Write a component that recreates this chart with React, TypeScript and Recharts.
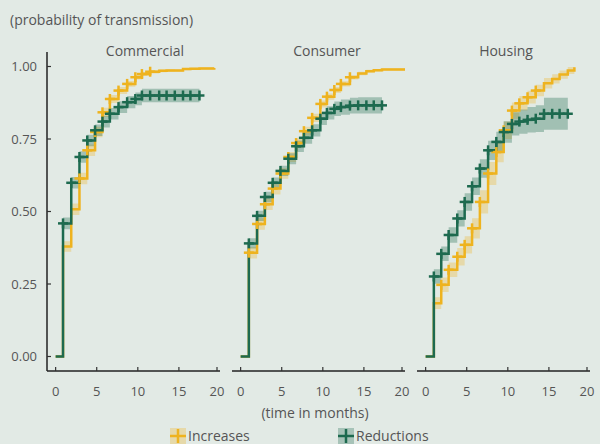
import React from "react";
import { ComposedChart, Line, Area, XAxis, YAxis } from "recharts";

// ---- data ----
const xTicks = [0, 5, 10, 15, 20];
const yTicks = [0, 0.25, 0.5, 0.75, 1];
const seriesNames = ["Increases", "Reductions"];

const commercialMonths = [0, 0.9, 1.9, 2.9, 3.85, 4.8, 5.7, 6.6, 7.65, 8.7, 9.7, 10.5, 11.5, 12.6, 13.5, 14.5, 15.5, 16.4, 17.5, 19.3];
const commercialIncreases = [0, 0.379, 0.508, 0.614, 0.711, 0.774, 0.842, 0.888, 0.917, 0.94, 0.963, 0.974, 0.982, 0.985, 0.986, 0.986, 0.991, 0.992, 0.993, 0.995];
const commercialIncreasesCi = [0, 0.018, 0.02, 0.02, 0.02, 0.018, 0.016, 0.014, 0.012, 0.01, 0.008, 0.007, 0.006, 0.005, 0.005, 0.004, 0.004, 0.004, 0.004, 0.004];
const commercialReductions = [0, 0.459, 0.599, 0.688, 0.745, 0.78, 0.81, 0.837, 0.86, 0.877, 0.888, 0.9, 0.9, 0.9, 0.9, 0.9, 0.9, 0.9, 0.9, null];
const commercialReductionsCi = [0, 0.02, 0.02, 0.02, 0.02, 0.02, 0.02, 0.02, 0.02, 0.021, 0.022, 0.023, 0.023, 0.023, 0.023, 0.023, 0.023, 0.023, 0.023, null];

const consumerMonths = [0, 1.0, 2.0, 2.95, 3.9, 4.85, 5.8, 6.75, 7.7, 8.7, 9.7, 10.5, 11.4, 12.2, 13.3, 14.3, 15.3, 16.2, 17.2, 20];
const consumerIncreases = [0, 0.358, 0.457, 0.525, 0.579, 0.631, 0.688, 0.736, 0.777, 0.823, 0.871, 0.896, 0.919, 0.94, 0.963, 0.976, 0.984, 0.987, 0.99, 0.994];
const consumerIncreasesCi = [0, 0.02, 0.02, 0.02, 0.02, 0.018, 0.017, 0.016, 0.015, 0.014, 0.012, 0.011, 0.01, 0.009, 0.008, 0.006, 0.005, 0.004, 0.004, 0.003];
const consumerReductions = [0, 0.39, 0.485, 0.55, 0.599, 0.64, 0.682, 0.725, 0.754, 0.78, 0.82, 0.84, 0.854, 0.86, 0.865, 0.866, 0.866, 0.866, 0.866, null];
const consumerReductionsCi = [0, 0.018, 0.018, 0.018, 0.018, 0.018, 0.019, 0.02, 0.02, 0.021, 0.022, 0.023, 0.025, 0.026, 0.027, 0.028, 0.028, 0.028, 0.028, null];

const housingMonths = [0, 1.0, 1.9, 2.8, 3.85, 4.75, 5.65, 6.6, 7.6, 8.6, 9.5, 10.5, 11.4, 12.4, 13.4, 14.4, 15.4, 16.3, 17.3, 18.1];
const housingIncreases = [0, 0.184, 0.247, 0.299, 0.344, 0.385, 0.442, 0.533, 0.631, 0.705, 0.78, 0.848, 0.873, 0.894, 0.917, 0.942, 0.957, 0.972, 0.986, 0.997];
const housingIncreasesCi = [0, 0.02, 0.025, 0.025, 0.03, 0.03, 0.035, 0.04, 0.04, 0.035, 0.03, 0.028, 0.025, 0.022, 0.02, 0.018, 0.016, 0.014, 0.012, 0.01];
const housingReductions = [0, 0.276, 0.354, 0.419, 0.476, 0.533, 0.587, 0.648, 0.711, 0.74, 0.774, 0.802, 0.81, 0.816, 0.82, 0.837, 0.837, 0.837, 0.837, null];
const housingReductionsCi = [0, 0.025, 0.025, 0.027, 0.028, 0.03, 0.03, 0.032, 0.033, 0.035, 0.037, 0.04, 0.042, 0.044, 0.046, 0.055, 0.055, 0.055, 0.055, null];

// first / last point carrying a "+" mark
const commercialMarks = { inc: [3, 12], red: [1, 18] };
const consumerMarks = { inc: [1, 14], red: [1, 18] };
const housingMarks = { inc: [2, 14], red: [1, 18] };

const BG = "#e2eae5";
const YELLOW = "#eeb31f";
const GREEN = "#1d6a4f";
const TEXT = "#555";
const FONT = "'Open Sans', sans-serif";

const PLOT_TOP = 52;
const PLOT_W = 173;

function buildRows(months: number[], inc: (number | null)[], incCi: (number | null)[], red: (number | null)[], redCi: (number | null)[]) {
  return months.map((m, i) => ({
    m,
    inc: inc[i],
    incBand: inc[i] == null ? null : [inc[i]! - incCi[i]!, inc[i]! + incCi[i]!],
    red: red[i],
    redBand: red[i] == null ? null : [red[i]! - redCi[i]!, red[i]! + redCi[i]!],
  }));
}

const panels = [
  {
    title: "Commercial",
    titleX: 145,
    left: 47,
    showY: true,
    rows: buildRows(commercialMonths, commercialIncreases, commercialIncreasesCi, commercialReductions, commercialReductionsCi),
    marks: commercialMarks,
  },
  {
    title: "Consumer",
    titleX: 327,
    left: 232,
    showY: false,
    rows: buildRows(consumerMonths, consumerIncreases, consumerIncreasesCi, consumerReductions, consumerReductionsCi),
    marks: consumerMarks,
  },
  {
    title: "Housing",
    titleX: 506,
    left: 417,
    showY: false,
    rows: buildRows(housingMonths, housingIncreases, housingIncreasesCi, housingReductions, housingReductionsCi),
    marks: housingMarks,
  },
];

const plusDot = (color: string, range: number[]) => (props: any) => {
  const { cx, cy, index, value } = props;
  if (value == null || cx == null || cy == null || index < range[0] || index > range[1]) {
    return <g key={`d-${index}`} />;
  }
  return (
    <g key={`d-${index}`}>
      <line x1={cx - 5} x2={cx + 5} y1={cy} y2={cy} stroke={color} strokeWidth={2.5} />
      <line x1={cx} x2={cx} y1={cy - 5} y2={cy + 5} stroke={color} strokeWidth={2.5} />
    </g>
  );
};

const XTick = (props: any) => {
  const { x, y, payload } = props;
  return (
    <g>
      <line x1={x} x2={x} y1={y} y2={y - 4} stroke="#333" strokeWidth={1.2} />
      <text x={x} y={y + 25} textAnchor="middle" fill={TEXT} fontSize={13} fontFamily={FONT}>
        {payload.value}
      </text>
    </g>
  );
};

const YTick = (props: any) => {
  const { x, y, payload } = props;
  return (
    <g>
      <line x1={x} x2={x + 4} y1={y} y2={y} stroke="#333" strokeWidth={1.2} />
      <text x={x - 10} y={y + 4.5} textAnchor="end" fill={TEXT} fontSize={13} fontFamily={FONT}>
        {Number(payload.value).toFixed(2)}
      </text>
    </g>
  );
};

function Panel({ p }: { p: (typeof panels)[number] }) {
  const yWidth = p.showY ? 47 : 0;
  return (
    <div style={{ position: "absolute", left: p.left - yWidth, top: 0 }}>
      <ComposedChart
        width={yWidth + PLOT_W + 5}
        height={401}
        data={p.rows}
        margin={{ top: PLOT_TOP, right: 5, bottom: 0, left: 0 }}
      >
        <XAxis
          type="number"
          dataKey="m"
          domain={[-1.05, 20]}
          ticks={xTicks}
          allowDataOverflow
          height={30}
          tickSize={0}
          tickMargin={0}
          tickLine={false}
          axisLine={{ stroke: "#222", strokeWidth: 1.5 }}
          tick={<XTick />}
        />
        <YAxis
          type="number"
          domain={[-0.05, 1.05]}
          ticks={yTicks}
          allowDataOverflow
          width={yWidth}
          tickSize={0}
          tickMargin={0}
          tickLine={false}
          axisLine={{ stroke: "#222", strokeWidth: 1.5 }}
          tick={p.showY ? <YTick /> : false}
        />
        <Area
          type="stepAfter"
          dataKey="incBand"
          stroke="none"
          fill={YELLOW}
          fillOpacity={0.3}
          isAnimationActive={false}
          activeDot={false}
        />
        <Area
          type="stepAfter"
          dataKey="redBand"
          stroke="none"
          fill={GREEN}
          fillOpacity={0.33}
          isAnimationActive={false}
          activeDot={false}
        />
        <Line
          type="stepAfter"
          dataKey="inc"
          stroke={YELLOW}
          strokeWidth={2.5}
          dot={plusDot(YELLOW, p.marks.inc)}
          activeDot={false}
          isAnimationActive={false}
        />
        <Line
          type="stepAfter"
          dataKey="red"
          stroke={GREEN}
          strokeWidth={2.5}
          dot={plusDot(GREEN, p.marks.red)}
          activeDot={false}
          isAnimationActive={false}
        />
      </ComposedChart>
    </div>
  );
}

function LegendKey({ x, color, label }: { x: number; color: string; label: string }) {
  return (
    <g>
      <rect x={x} y={428} width={16} height={16} fill={color} fillOpacity={0.3} />
      <line x1={x} x2={x + 16} y1={436} y2={436} stroke={color} strokeWidth={2.5} />
      <line x1={x + 8} x2={x + 8} y1={429} y2={443} stroke={color} strokeWidth={2.5} />
      <text x={x + 18} y={441} fill={TEXT} fontSize={14} fontFamily={FONT}>
        {label}
      </text>
    </g>
  );
}

export default function App() {
  return (
    <div
      style={{
        position: "absolute",
        left: 0,
        top: 0,
        width: 600,
        height: 444,
        background: BG,
        overflow: "hidden",
      }}
    >
      <svg width={600} height={444} style={{ position: "absolute", left: 0, top: 0 }}>
        <text x={10} y={25} fill={TEXT} fontSize={14} fontFamily={FONT}>
          (probability of transmission)
        </text>
        {panels.map((p) => (
          <text key={p.title} x={p.titleX} y={56} textAnchor="middle" fill={TEXT} fontSize={14} fontFamily={FONT}>
            {p.title}
          </text>
        ))}
        <text x={315} y={418} textAnchor="middle" fill={TEXT} fontSize={14} fontFamily={FONT}>
          (time in months)
        </text>
        <LegendKey x={170} color={YELLOW} label={seriesNames[0]} />
        <LegendKey x={338} color={GREEN} label={seriesNames[1]} />
      </svg>
      {panels.map((p) => (
        <Panel key={p.title} p={p} />
      ))}
    </div>
  );
}
